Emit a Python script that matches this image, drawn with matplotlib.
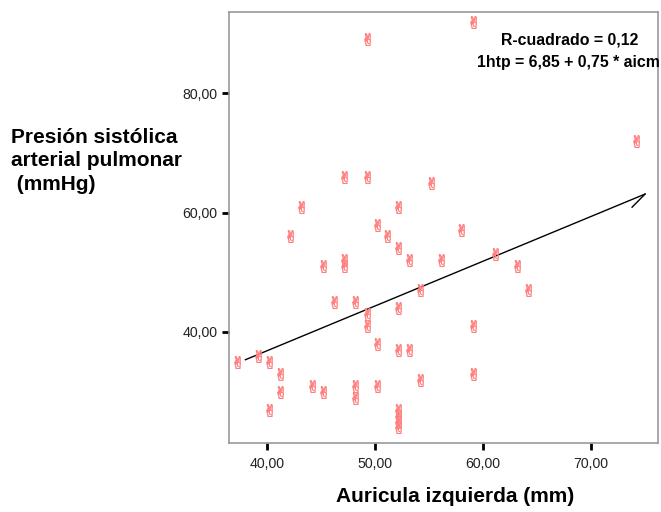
import matplotlib
matplotlib.use("Agg")
import matplotlib.pyplot as plt
import numpy as np

# Data
aicm = [47.1, 49.3, 55.2, 43.1, 52.1, 50.2, 42.1, 51.1, 58.0, 52.1,
        47.1, 47.1, 45.2, 53.1, 56.1, 61.1, 63.1, 54.2, 64.2,
        49.3, 59.1, 74.2,
        46.2, 48.1, 52.1, 49.3, 49.3, 59.1, 50.2, 52.1, 53.1,
        37.2, 39.2, 40.2, 41.2, 41.2, 44.2, 45.2, 48.1, 48.1, 50.2,
        54.2, 59.1, 40.2, 52.1, 52.1, 52.1, 52.1]
htp = [66, 66, 65, 61, 61, 58, 56, 56, 57, 54,
       52, 51, 51, 52, 52, 53, 51, 47, 47,
       89, 92, 72,
       45, 45, 44, 43, 41, 41, 38, 37, 37,
       35, 36, 35, 33, 30, 31, 30, 31, 29, 31,
       32, 33, 27, 27, 26, 25, 24]

intercept = 6.85
slope = 0.75
fit_x = [38.0, 75.0]
xticks = [40, 50, 60, 70]
yticks = [40, 60, 80]

fig = plt.figure(figsize=(6.61, 5.12), dpi=100)
ax = fig.add_axes([229/661, 1-443/512, (658-229)/661, (443-12)/512])

ax.scatter(aicm, htp, marker='$\u270C$', s=80, color='#FF8080',
           linewidths=0.4, zorder=3)

fx = np.array(fit_x)
fy = intercept + slope * fx
ax.plot(fx, fy, color='black', lw=1.0, zorder=2)
# arrow-like hook at the end of the line
ax.plot([fx[1], fx[1] - 1.2], [fy[1], fy[1] - 2.2], color='black', lw=1.0, zorder=2)

ax.set_xlim(36.48, 76.2)
ax.set_ylim(21.4, 93.6)
ax.set_xticks(xticks)
ax.set_yticks(yticks)
ax.set_xticklabels([f"{t:.2f}".replace('.', ',') for t in xticks])
ax.set_yticklabels([f"{t:.2f}".replace('.', ',') for t in yticks])
ax.tick_params(direction='out', length=5, width=2, color='black',
               labelsize=10.2, labelcolor='#222222')
ax.tick_params(axis='x', pad=5)
for sp in ax.spines.values():
    sp.set_color('#999999')
    sp.set_linewidth(1.2)

fam = ['Liberation Sans', 'DejaVu Sans']
for lab in ax.get_xticklabels() + ax.get_yticklabels():
    lab.set_family(fam)

fig.text(570/661, 1-40/512, 'R-cuadrado = 0,12',
         ha='center', va='center', fontsize=11.4, fontweight='bold', family=fam,
         zorder=5)
fig.text(477/661, 1-63/512, '1htp = 6,85 + 0,75 * aicm',
         ha='left', va='center', fontsize=11.4, fontweight='bold', family=fam,
         zorder=5)

fig.text(11/661, 1-161/512, 'Presión sistólica\narterial pulmonar\n (mmHg)',
         ha='left', va='center', fontsize=15, fontweight='bold', family=fam,
         linespacing=1.3)
fig.text(455/661, 1-497/512, 'Auricula izquierda (mm)', ha='center', va='center',
         fontsize=15, fontweight='bold', family=fam)

fig.savefig('out.png', dpi=100)
